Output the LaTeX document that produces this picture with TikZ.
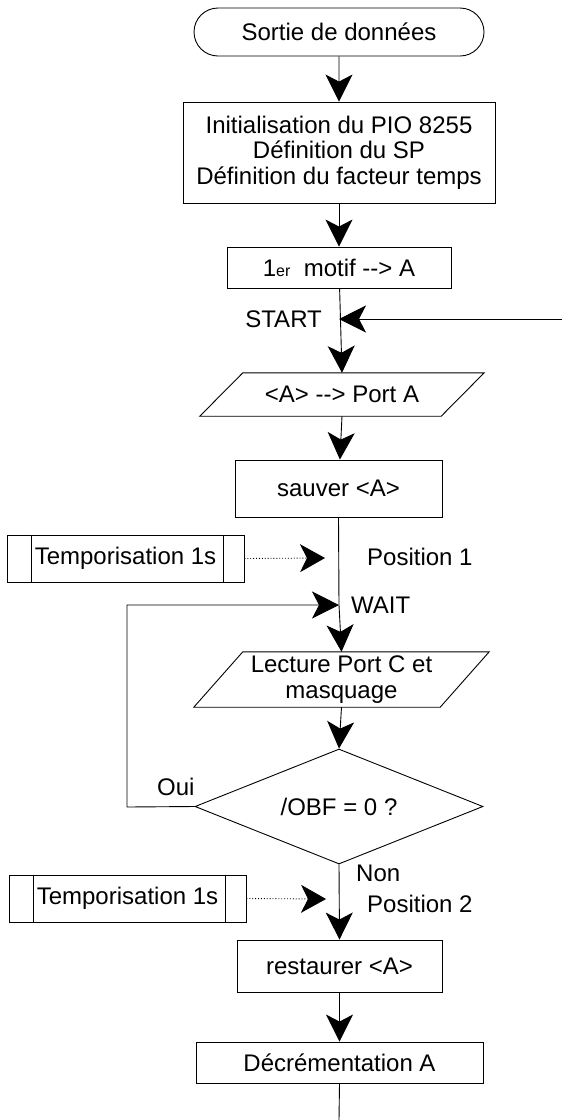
\documentclass[tikz,border=0pt]{standalone}
\usepackage{fontspec}
\setmainfont{Liberation Sans}
\usetikzlibrary{shapes.geometric,shapes.misc,arrows.meta,calc}

\newcommand{\arr}{-{}-{}>}

\tikzset{
  x=1pt, y=-1pt,
  every node/.style={font=\fontsize{24}{25.5}\selectfont, inner sep=0pt},
  ln/.style={line width=0.9pt, draw=black},
  box/.style={ln, draw, rectangle, align=center},
  term/.style={ln, draw, rounded rectangle},
  slanted/.style={align=center},
  decide/.style={ln, draw, diamond, aspect=2.5},
  flow/.style={ln, -{Stealth[length=27pt, width=27pt, inset=7pt]}},
  dots/.style={ln, dotted, -{Stealth[length=25pt, width=28pt, inset=7pt]}},
  lbl/.style={anchor=west}
}

\begin{document}
\begin{tikzpicture}
\useasboundingbox (0,0) rectangle (562,1120);

% main column
\node[term, minimum width=290, minimum height=48] (start) at (339,32) {Sortie de données};
\node[box, minimum width=312, minimum height=101] (init) at (339,152.5)
  {Initialisation du PIO 8255\\Définition du SP\\Définition du facteur temps};
\node[box, minimum width=224, minimum height=41] (motif) at (339,267.5)
  {1{\fontsize{16}{16}\selectfont er}\ \ motif \arr{} A};

% output to port A (parallelogram drawn from the node frame)
\node[slanted, minimum width=284, minimum height=43] (portA) at (342,394.5) {<A> \arr{} Port A};
\draw[ln] ($(portA.north west)+(43,0)$) -- (portA.north east)
  -- ($(portA.south east)-(43,0)$) -- (portA.south west) -- cycle;

\node[box, minimum width=207, minimum height=57] (save) at (338.5,488.5) {sauver <A>};

% read port C (parallelogram)
\node[slanted, minimum width=295, minimum height=55] (readC) at (341.5,679.5)
  {Lecture Port C et\\masquage};
\draw[ln] ($(readC.north west)+(49,0)$) -- (readC.north east)
  -- ($(readC.south east)-(49,0)$) -- (readC.south west) -- cycle;

\node[decide, minimum width=288, minimum height=115] (obf) at (339,806.5) {/OBF = 0 ?};

\node[box, minimum width=205, minimum height=52] (rest) at (339.5,966) {restaurer <A>};
\node[box, minimum width=287, minimum height=41] (decr) at (339.5,1062.5) {Décrémentation A};

% delay subroutines
\node[box, minimum width=237, minimum height=47] (tempo1) at (125.5,558.5) {Temporisation 1s};
\draw[ln] ([xshift=25]tempo1.north west) -- ([xshift=25]tempo1.south west);
\draw[ln] ([xshift=-21]tempo1.north east) -- ([xshift=-21]tempo1.south east);
\node[box, minimum width=237, minimum height=47] (tempo2) at (127.5,898.5) {Temporisation 1s};
\draw[ln] ([xshift=25]tempo2.north west) -- ([xshift=25]tempo2.south west);
\draw[ln] ([xshift=-21]tempo2.north east) -- ([xshift=-21]tempo2.south east);

% junction points
\coordinate (startin) at (339,319);
\coordinate (entry) at (562,319);
\coordinate (wait) at (339,605);
\coordinate (pos1) at (325,558);
\coordinate (pos2) at (326,899);
\coordinate (out) at (339,1120);
\coordinate (loopc) at (127,807);

% connectors
\draw[flow] (start) -- (init);
\draw[flow] (init) -- (motif);
\draw[flow] (motif) -- (portA.north);
\draw[flow] (entry) -- (startin);
\draw[flow] (portA.south) -- (save);
\draw[flow] (save.south) -- (wait) -- (readC.north);
\draw[flow] (obf.west) -- (loopc) |- (wait);
\draw[flow] (readC.south) -- (obf.north);
\draw[flow] (obf.south) -- (rest.north);
\draw[flow] (rest) -- (decr);
\draw[ln] (decr.south) -- (out);
\draw[dots] (tempo1.east) -- (pos1);
\draw[dots] (tempo2.east) -- (pos2);

% labels
\node[anchor=east] (lstart) at (322,319) {START};
\node[lbl] (lpos1) at (367,557) {Position 1};
\node[lbl] (lwait) at (351,605) {WAIT};
\node[lbl] (loui) at (157,787) {Oui};
\node[lbl] (lnon) at (356,873) {Non};
\node[lbl] (lpos2) at (367,904) {Position 2};
\end{tikzpicture}
\end{document}
